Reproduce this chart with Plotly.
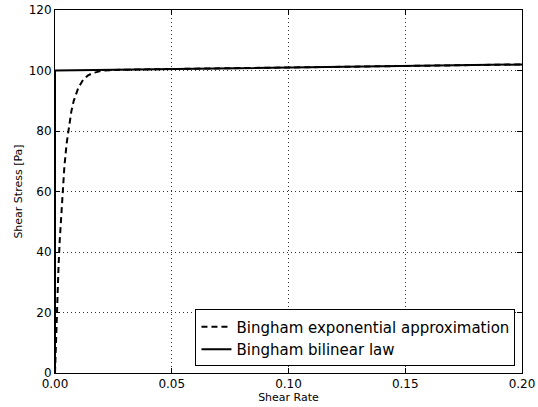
import plotly.graph_objects as go

# Bingham exponential approximation
exp_rate = [0, 0.0005, 0.001, 0.0015, 0.002, 0.003, 0.004, 0.005, 0.006, 0.007,
            0.008, 0.009, 0.010, 0.012, 0.014, 0.016, 0.018, 0.020, 0.025, 0.030,
            0.050, 0.100, 0.150, 0.200]
exp_stress = [0, 13.3, 24.9, 34.9, 43.5, 57.6, 68.1, 76.0, 82.0, 86.5,
              89.9, 92.4, 94.3, 96.9, 98.3, 99.1, 99.6, 99.9, 100.2, 100.3,
              100.5, 101.0, 101.5, 102.0]

# Bingham bilinear law
bil_rate = [0, 0, 0.200]
bil_stress = [0, 100, 102]

x_ticks = [0, 0.05, 0.10, 0.15, 0.20]
y_ticks = [0, 20, 40, 60, 80, 100, 120]

font = "DejaVu Sans, Liberation Sans, sans-serif"

fig = go.Figure()

fig.add_trace(go.Scatter(
    x=exp_rate, y=exp_stress,
    name="Bingham exponential approximation",
    mode="lines",
    line=dict(color="black", width=2, dash="6px,4px")
))

fig.add_trace(go.Scatter(
    x=bil_rate, y=bil_stress,
    name="Bingham bilinear law",
    mode="lines",
    line=dict(color="black", width=2)
))

axis_common = dict(
    showline=True, linecolor="black", linewidth=1, mirror="allticks",
    ticks="inside", ticklen=5, tickcolor="black",
    showgrid=True, gridcolor="#333333", gridwidth=1, griddash="1px,3px",
    zeroline=False, automargin=False,
    tickfont=dict(family=font, size=12, color="black"),
)

fig.update_layout(
    width=538, height=407,
    margin=dict(l=55, r=16, t=10, b=34),
    paper_bgcolor="white", plot_bgcolor="white",
    font=dict(family=font, color="black"),
    xaxis=dict(
        range=[0, 0.2], tickvals=x_ticks, tickformat=".2f",
        title=dict(text="Shear Rate", font=dict(family=font, size=11), standoff=2),
        **axis_common
    ),
    yaxis=dict(
        range=[0, 120], tickvals=y_ticks,
        title=dict(text="Shear Stress [Pa]", font=dict(family=font, size=11), standoff=3),
        **axis_common
    ),
    legend=dict(
        x=0.986, y=0.018, xanchor="right", yanchor="bottom",
        bordercolor="black", borderwidth=1, bgcolor="white",
        font=dict(family=font, size=15),
        tracegroupgap=0,
    ),
    showlegend=True,
)

# page has a default 8px body margin; drop it so the figure sits at the corner
fig.write_html("out.html", config={"displayModeBar": False},
               post_script="document.body.style.margin='0';")
